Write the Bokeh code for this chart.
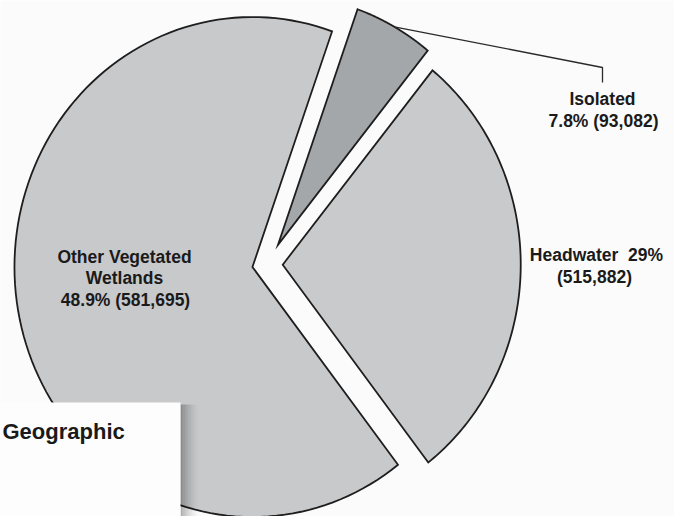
import numpy as np
from bokeh.plotting import figure
from bokeh.models import Range1d
from bokeh.embed import file_html
from bokeh.resources import INLINE
from bokeh.core.properties import value

# ---- data ----
categories = ["Headwater", "Isolated", "Other Vegetated Wetlands"]
drawn_share = [28.7, 5.4, 65.9]            # share of the circle as drawn (%)
label_pct = ["29%", "7.8%", "48.9%"]       # percentages printed on the chart
label_count = ["515,882", "93,082", "581,695"]

# ---- styling / geometry ----
fill_colors = ["#c9cacc", "#a3a7aa", "#c8c9cb"]
explode = [0.064, 0.09, 0.064]
start_deg = -52.3
W, H = 674, 516
CX, CY = 267, 264      # pie centre in window pixels
RX, RY = 238, 250      # radii in window pixels (pie is slightly elliptical)


def sx(px):
    return (px - CX) / RX


def sy(py):
    return (CY - py) / RY


p = figure(width=W, height=H, output_backend="svg", toolbar_location=None,
           x_range=Range1d(sx(0), sx(W)), y_range=Range1d(sy(H), sy(0)),
           x_axis_type=None, y_axis_type=None, min_border=0)
p.grid.visible = False
p.outline_line_color = None
p.background_fill_color = "#fbfbfb"
p.border_fill_color = "#fbfbfb"

# ---- slices ----
total = sum(drawn_share)
xs, ys, mids, offs = [], [], [], []
a = np.radians(start_deg)
for share, d in zip(drawn_share, explode):
    span = 2 * np.pi * share / total
    a0, a1 = a, a + span
    m = (a0 + a1) / 2
    ox, oy = d * np.cos(m), d * np.sin(m)
    t = np.linspace(a0, a1, 120)
    xs.append([ox] + list(ox + np.cos(t)) + [ox])
    ys.append([oy] + list(oy + np.sin(t)) + [oy])
    mids.append(m)
    offs.append((ox, oy))
    a = a1

p.patches(xs, ys, fill_color=fill_colors, line_color="#1e1e1e", line_width=1.8,
          line_join="miter")

# ---- leader line for the Isolated slice ----
mi = mids[1]
ox, oy = offs[1]
p.line([ox + np.cos(mi), sx(602), sx(602)], [oy + np.sin(mi), sy(67), sy(82)],
       line_color="#2a2a2a", line_width=1.3)

# ---- labels ----
lab_text = [
    categories[1], f"{label_pct[1]} ({label_count[1]})",
    f"{categories[0]}\u00a0\u00a0{label_pct[0]}", f"({label_count[0]})",
    "Other Vegetated", "Wetlands", f"{label_pct[2]} ({label_count[2]})",
]
lab_x = [602, 603, 596, 594, 124, 124, 125]
lab_y = [98.5, 120.5, 254, 276, 256, 277, 299]
p.text(x=[sx(v) for v in lab_x], y=[sy(v) for v in lab_y], text=lab_text,
       text_align="center", text_baseline="alphabetic",
       text_font=value("Liberation Sans"), text_font_style="bold",
       text_font_size="17.5px", text_color="#1a1a1a")

# ---- overlapping caption box with drop shadow ----
n = 12
sh_l = [sx(180 + i * 1.5) for i in range(n)]
sh_r = [sx(180 + (i + 1) * 1.5) for i in range(n)]
sh_a = [0.30 * (1 - i / n) ** 1.5 for i in range(n)]
p.quad(left=sh_l, right=sh_r, top=[sy(404)] * n, bottom=[sy(540)] * n,
       fill_color="black", fill_alpha=sh_a, line_color=None)
p.quad(left=[sx(-30)], right=[sx(180)], top=[sy(402)], bottom=[sy(540)],
       fill_color="#fdfdfd", line_color=None)
p.text(x=[sx(2)], y=[sy(431)], text=["Geographic"], text_align="left",
       text_baseline="alphabetic", text_font=value("Liberation Sans"),
       text_font_style="bold", text_font_size="22px", text_color="#1a1a1a")

open("out.html", "w").write(file_html(p, INLINE))
